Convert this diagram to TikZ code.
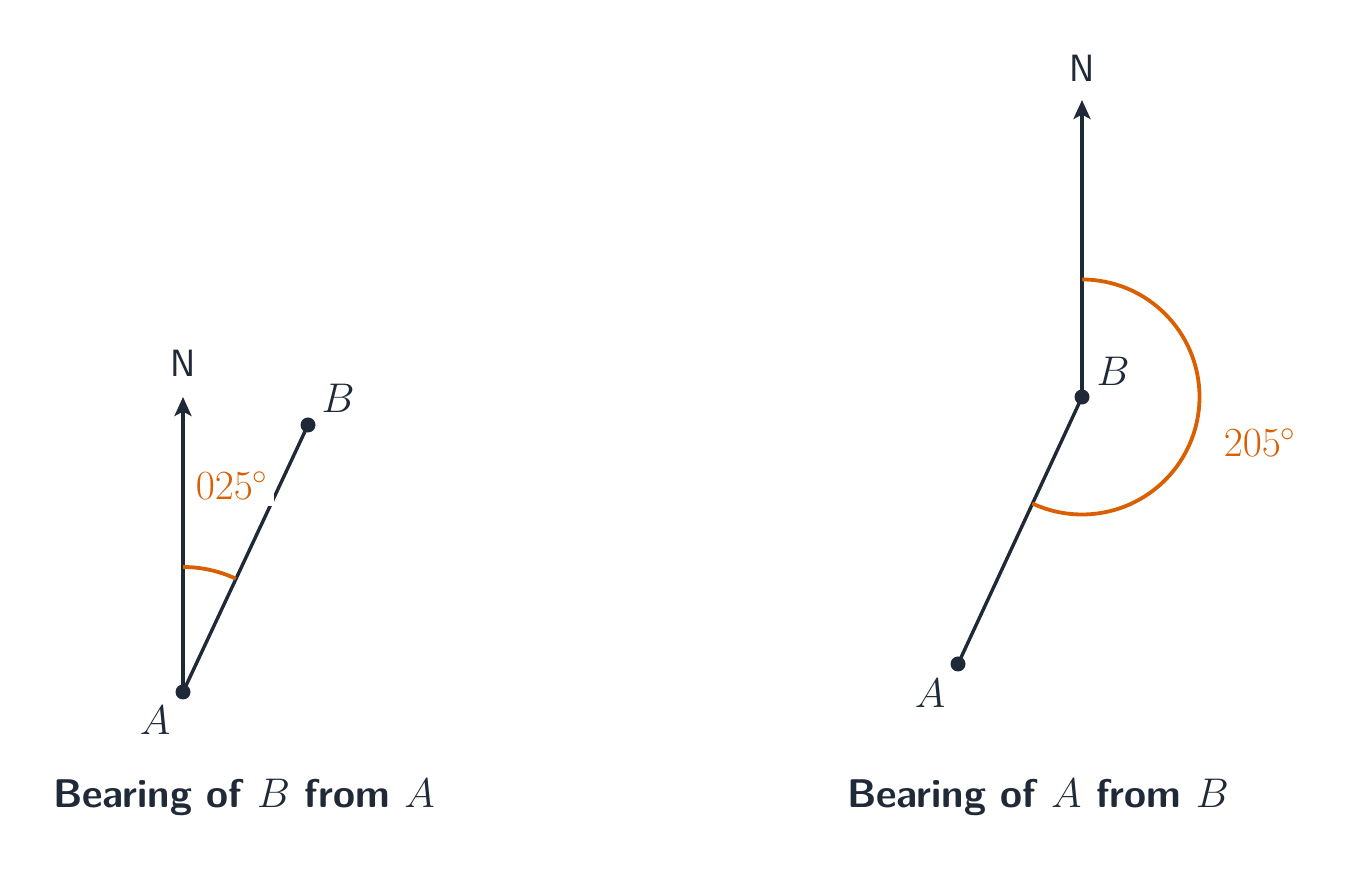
\documentclass[tikz,border=0pt]{standalone}
\usetikzlibrary{arrows.meta}
\definecolor{ink}{HTML}{1F2937}
\definecolor{ang}{HTML}{D95F02}
\begin{document}
\begin{tikzpicture}[x=0.5pt,y=0.5pt,
  dot/.style={circle,fill=ink,inner sep=0pt,minimum size=7.5pt},
  seg/.style={draw=ink,line width=1.7pt},
  north/.style={seg,-{Stealth[length=9.5pt,width=8.5pt,inset=2.2pt]}},
  arcline/.style={draw=ang,line width=1.9pt},
  ptlabel/.style={text=ink,inner sep=0pt,font=\fontsize{20}{24}\selectfont},
  nlabel/.style={text=ink,inner sep=0pt,font=\fontsize{19}{22}\selectfont\sffamily},
  anglabel/.style={text=ang,font=\fontsize{21.5}{26}\selectfont},
  caption/.style={text=ink,inner sep=0pt,font=\fontsize{20}{24}\selectfont\sffamily\bfseries}]
\useasboundingbox (0,0) rectangle (1354,871);
% ---- left: bearing of B from A
\node[dot] (A1) at (183,179) {};
\node[dot] (B1) at (308,446) {};
\coordinate (N1) at (183,474);
\draw[north] (A1.center) -- (N1);
\draw[seg] (A1.center) -- (B1.center);
\draw[arcline] ([shift={(90:62.5pt)}]A1.center) arc[start angle=90,end angle=65,radius=62.5pt];
\node[anglabel,fill=white,inner sep=3pt] (L1) at (232,385) {$025^\circ$};
\node[nlabel] (NL1) at (183,508) {N};
\node[ptlabel] (AL1) at (155,151) {$A$};
\node[ptlabel] (BL1) at (338,473) {$B$};
\node[caption] (C1) at (244,74) {Bearing of $B$ from $A$};
% ---- right: bearing of A from B
\node[dot] (B2) at (1082,474) {};
\node[dot] (A2) at (958,207) {};
\coordinate (N2) at (1082,771);
\draw[north] (B2.center) -- (N2);
\draw[seg] (B2.center) -- (A2.center);
\draw[arcline] ([shift={(90:58.75pt)}]B2.center) arc[start angle=90,end angle=-115,radius=58.75pt];
\node[anglabel] (L2) at (1260,428) {$205^\circ$};
\node[nlabel] (NL2) at (1082,803) {N};
\node[ptlabel] (AL2) at (930,178) {$A$};
\node[ptlabel] (BL2) at (1113,500) {$B$};
\node[caption] (C2) at (1038,74) {Bearing of $A$ from $B$};
\end{tikzpicture}
\end{document}
